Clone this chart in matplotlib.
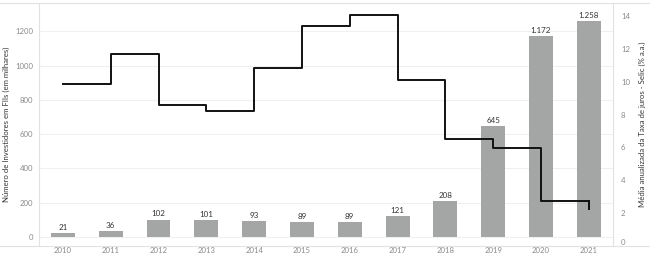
import matplotlib
matplotlib.use("Agg")
import matplotlib.pyplot as plt
from matplotlib.lines import Line2D
import numpy as np

years = ["2010", "2011", "2012", "2013", "2014", "2015", "2016", "2017", "2018", "2019", "2020", "2021"]
investidores = [21, 36, 102, 101, 93, 89, 89, 121, 208, 645, 1172, 1258]
selic = [9.86, 11.67, 8.56, 8.21, 10.85, 13.40, 14.09, 10.09, 6.52, 5.96, 2.73, 2.22]
left_ticks = [0, 200, 400, 600, 800, 1000, 1200]
right_ticks = [0, 2, 4, 6, 8, 10, 12, 14]

plt.rcParams['font.family'] = ['Lato', 'DejaVu Sans']

fig = plt.figure(figsize=(6.5, 2.57), dpi=100)
ax = fig.add_axes([0.06, 0.044, 0.8826, 0.944])
x = np.arange(len(years))

ax.bar(x, investidores, width=0.5, color="#a4a6a5", zorder=2)
for xi, v in zip(x, investidores):
    lbl = f"{v:,}".replace(",", ".")
    ax.text(xi, v + 12, lbl, ha="center", va="bottom", fontsize=5.8, color="#333333", zorder=4)

ax.set_xlim(-0.5, len(years) - 0.5)
ax.set_ylim(-50.7, 1364)
ax.set_yticks(left_ticks)
ax.set_yticklabels([str(t) for t in left_ticks])
ax.set_xticks(x)
ax.set_xticklabels(years)
ax.tick_params(axis="both", labelsize=5.6, labelcolor="#8a8a8a", length=0, pad=4)
ax.tick_params(axis="x", pad=0.8)
for t in left_ticks:
    ax.axhline(t, color="#f0f0f0", lw=0.8, zorder=0)
for s in ["top", "bottom"]:
    ax.spines[s].set_visible(False)
ax.spines["left"].set_color("#e2e2e2")
ax.spines["right"].set_color("#e2e2e2")
ax.set_ylabel("Número de Investidores em FIIs (em milhares)", fontsize=5.6, color="#333333", labelpad=4)

ax2 = ax.twinx()
ax2.set_ylim(0, 14.8)
ax2.step(x, selic, where="post", color="#111111", lw=1.4, zorder=5)
ax2.plot([x[-2] + 1, x[-1]], [selic[-2], selic[-1]], color="#111111", lw=1.4)
ax2.set_yticks(right_ticks)
ax2.set_yticklabels([str(t) for t in right_ticks])
ax2.tick_params(axis="y", labelsize=5.6, labelcolor="#8a8a8a", length=0, pad=6)
for s in ["top", "bottom", "left", "right"]:
    ax2.spines[s].set_visible(False)
ax2.set_ylabel("Média anualizada da Taxa de juros - Selic (% a.a.)", fontsize=5.6, color="#333333", labelpad=6)
ax2.get_yticklabels()[0].set_va("bottom")

fig.add_artist(Line2D([0, 1], [0.988, 0.988], transform=fig.transFigure, color="#e2e2e2", lw=0.8))
fig.add_artist(Line2D([0, 1], [0.044, 0.044], transform=fig.transFigure, color="#e2e2e2", lw=0.8))

fig.savefig("out.png", dpi=100, facecolor="white")
